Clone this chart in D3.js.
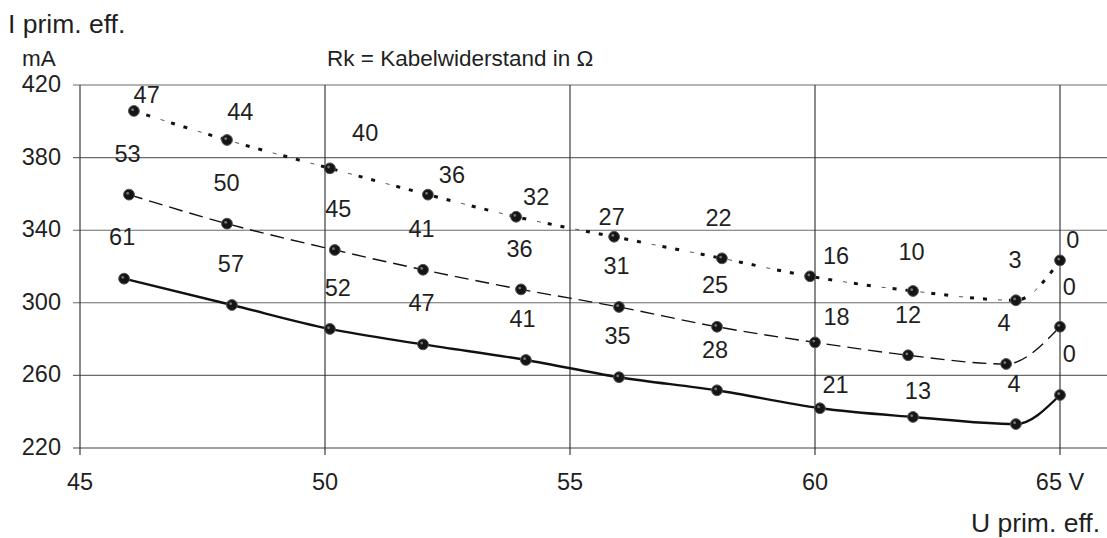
<!DOCTYPE html>
<html>
<head>
<meta charset="utf-8">
<script src="https://cdn.jsdelivr.net/npm/d3@7"></script>
<style>
  body { margin: 0; background: #fff; }
  text { font-family: "Liberation Sans", Arial, Helvetica, sans-serif; fill: #1f1f1f; }
</style>
</head>
<body>
<svg id="chart" width="1107" height="538"></svg>
<script>
const voltTicks = [45, 50, 55, 60, 65];
const currentTicks = [220, 260, 300, 340, 380, 420];

// upper curve (dotted)
const uTop = [46.1, 48.0, 50.1, 52.1, 53.9, 55.9, 58.1, 59.9, 62.0, 64.1, 65.0];
const iTop = [405.7, 389.7, 374.1, 359.6, 347.4, 336.4, 324.5, 314.6, 306.5, 301.4, 323.4];
const rkTop = ["47", "44", "40", "36", "32", "27", "22", "16", "10", "3", "0"];
const rkTopU = [46.36, 48.27, 50.82, 52.59, 54.31, 55.85, 58.03, 60.43, 61.97, 64.08, 65.26];
const rkTopI = [414.5, 405.3, 393.7, 370.4, 358.8, 347.4, 347.1, 326.3, 328.1, 324.0, 335.0];

// middle curve (dashed)
const uMid = [46.0, 48.0, 50.2, 52.0, 54.0, 56.0, 58.0, 60.0, 61.9, 63.9, 65.0];
const iMid = [359.6, 343.6, 329.1, 318.2, 307.4, 297.7, 286.8, 278.2, 271.1, 266.3, 286.8];
const rkMid = ["53", "50", "45", "41", "36", "31", "25", "18", "12", "4", "0"];
const rkMidU = [45.97, 47.99, 50.27, 51.97, 53.97, 55.95, 57.96, 60.44, 61.9, 63.86, 65.19];
const rkMidI = [382.4, 366.2, 352.1, 341.0, 330.0, 320.8, 309.8, 292.7, 293.3, 289.0, 309.2];

// lower curve (solid)
const uLow = [45.9, 48.1, 50.1, 52.0, 54.1, 56.0, 58.0, 60.1, 62.0, 64.1, 65.0];
const iLow = [313.3, 298.8, 285.6, 277.1, 268.5, 259.0, 251.8, 241.9, 237.1, 233.2, 249.2];
const rkLow = ["61", "57", "52", "47", "41", "35", "28", "21", "13", "4", "0"];
const rkLowU = [45.86, 48.08, 50.26, 51.97, 54.03, 55.97, 57.96, 60.42, 62.1, 64.06, 65.19];
const rkLowI = [336.4, 321.8, 308.5, 300.0, 291.5, 281.7, 274.4, 254.7, 251.6, 255.6, 272.2];

const svg = d3.select("#chart");
const x = d3.scaleLinear().domain([45, 65]).range([80, 1060]);
const y = d3.scaleLinear().domain([220, 420]).range([448, 85]);

// grid
svg.append("g")
  .selectAll("line")
  .data(currentTicks)
  .join("line")
  .attr("x1", 73)
  .attr("x2", 1107)
  .attr("y1", (d) => y(d))
  .attr("y2", (d) => y(d))
  .attr("stroke", (d) => (d === 220 ? "#444" : "#6a6a6a"))
  .attr("stroke-width", 1.1);

svg.append("g")
  .selectAll("line")
  .data(voltTicks)
  .join("line")
  .attr("x1", (d) => x(d))
  .attr("x2", (d) => x(d))
  .attr("y1", y(420))
  .attr("y2", y(220) + 7)
  .attr("stroke", "#2a2a2a")
  .attr("stroke-width", 1.1);

// tick labels
svg.append("g")
  .selectAll("text")
  .data(currentTicks)
  .join("text")
  .attr("x", 61)
  .attr("y", (d) => y(d))
  .attr("dy", "0.3em")
  .attr("text-anchor", "end")
  .style("font-size", "23.5px")
  .text((d) => d);

svg.append("g")
  .selectAll("text")
  .data(voltTicks)
  .join("text")
  .attr("x", (d) => x(d))
  .attr("y", 490)
  .attr("text-anchor", "middle")
  .style("font-size", "23.5px")
  .text((d) => (d === 65 ? "65 V" : d));

// titles
svg.append("text").attr("x", 8).attr("y", 33).style("font-size", "26.5px").text("I prim. eff.");
svg.append("text").attr("x", 22).attr("y", 66).style("font-size", "22.5px").text("mA");
svg.append("text").attr("x", 327).attr("y", 66).style("font-size", "22.5px").text("Rk = Kabelwiderstand in Ω");
svg.append("text").attr("x", 1100).attr("y", 532).attr("text-anchor", "end").style("font-size", "26.5px").text("U prim. eff.");

const line = d3.line()
  .x((d) => x(d[0]))
  .y((d) => y(d[1]))
  .curve(d3.curveMonotoneX);

function drawSeries(us, is, labels, lu, li, styles) {
  let pts = us.map((u, k) => [u, is[k]]);
  styles.forEach((s) => {
    svg.append("path")
      .datum(pts)
      .attr("d", line)
      .attr("fill", "none")
      .attr("stroke", s.color || "#111")
      .attr("stroke-width", s.width)
      .attr("stroke-dasharray", s.dash)
      .attr("stroke-dashoffset", s.offset || 0);
  });
  svg.append("g")
    .selectAll("circle")
    .data(pts)
    .join("circle")
    .attr("cx", (d) => x(d[0]))
    .attr("cy", (d) => y(d[1]))
    .attr("r", 5.4)
    .attr("fill", "#151515")
    .attr("stroke", "#555")
    .attr("stroke-width", 1);
  svg.append("g")
    .selectAll("circle")
    .data(pts)
    .join("circle")
    .attr("cx", (d) => x(d[0]) - 1.3)
    .attr("cy", (d) => y(d[1]) - 1.3)
    .attr("r", 1.4)
    .attr("fill", "#777");
  svg.append("g")
    .selectAll("text")
    .data(labels)
    .join("text")
    .attr("x", (d, k) => x(lu[k]))
    .attr("y", (d, k) => y(li[k]))
    .attr("dy", "0.36em")
    .attr("text-anchor", "middle")
    .style("font-size", "23.5px")
    .text((d) => d);
}

drawSeries(uTop, iTop, rkTop, rkTopU, rkTopI, [
  { width: 1, dash: "4 35", offset: -28, color: "#555" },
  { width: 3, dash: "4 9 4 22" }
]);
drawSeries(uMid, iMid, rkMid, rkMidU, rkMidI, [{ width: 1.4, dash: "14 7" }]);
drawSeries(uLow, iLow, rkLow, rkLowU, rkLowI, [{ width: 2.4, dash: null }]);
</script>
</body>
</html>
